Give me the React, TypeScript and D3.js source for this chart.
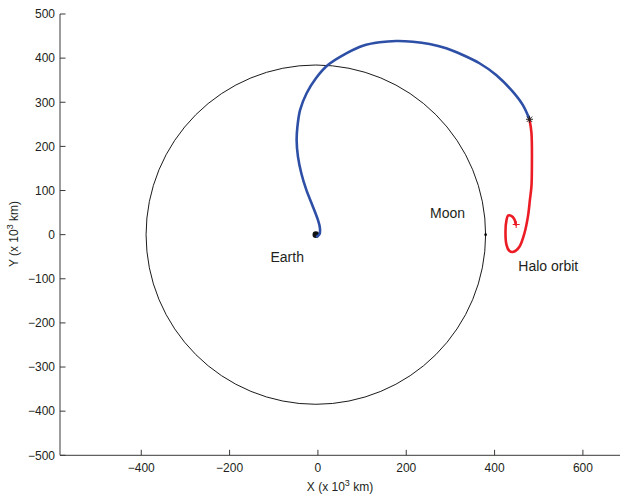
import React from "react";
import * as d3 from "d3";

const W = 621;
const H = 497;

const xTicks = [-400, -200, 0, 200, 400, 600];
const yTicks = [-500, -400, -300, -200, -100, 0, 100, 200, 300, 400, 500];

// Earth & Moon (x 10^3 km, barycentric)
const earth: [number, number] = [-4.7, 0];
const moonOrbitRadius = 384.4;
const moon: [number, number] = [379.7, 0];

// Transfer trajectory (blue)
const transferX = [-1.8, 3.8, 4.5, 0, -11.3, -26.2, -37.6, -45.2, -48.2, -46.4, -40.3, -25.6, -4.1, 22.6, 64.3, 101.8, 139.6, 177.4, 214.9, 252.7, 290.5, 328, 365.8, 403.6, 441.2, 463.8, 479];
const transferY = [-4, 1.6, 15.2, 33.3, 63.4, 101.3, 139.1, 176.8, 214.6, 244.7, 282.6, 320.4, 355.1, 384.5, 411, 428.3, 436, 438.9, 437.3, 432.1, 422.4, 407.2, 388.4, 361.9, 324, 293.9, 261.5];

// Halo orbit insertion arc (red)
const haloX = [479, 483.5, 484.5, 483.5, 480, 475.5, 467.6, 456.3, 443, 433.7, 427, 424.7, 427, 431, 438, 445, 448];
const haloY = [261.5, 230.5, 154, 110, 78.6, 40.8, 3.2, -27.2, -38.8, -37, -23, 6, 33, 43.5, 42.4, 34.4, 23];

const starPoint: [number, number] = [479, 261.5];
const plusPoint: [number, number] = [449, 23];

const FONT = "'Liberation Sans', Arial, Helvetica, sans-serif";
const TEXT = "#231f20";
const AXIS = "#3a3a3a";

export default function App() {
  const x = d3.scaleLinear().domain([-584, 684]).range([60, 620]);
  const y = d3.scaleLinear().domain([-500, 500]).range([455.3, 14]);

  const line = d3
    .line<[number, number]>()
    .x((d) => x(d[0]))
    .y((d) => y(d[1]))
    .curve(d3.curveCatmullRom.alpha(0.5));

  const transfer: [number, number][] = transferX.map((v, i) => [v, transferY[i]]);
  const halo: [number, number][] = haloX.map((v, i) => [v, haloY[i]]);

  const rPx = x(earth[0] + moonOrbitRadius) - x(earth[0]);
  const ryPx = y(0) - y(moonOrbitRadius);

  const fmt = (v: number) => (v < 0 ? "\u2212" + Math.abs(v) : String(v));

  const sx = x(starPoint[0]);
  const sy = y(starPoint[1]);
  const px = x(plusPoint[0]);
  const py = y(plusPoint[1]);
  const s = 3.5;
  const p = 3.5;

  return (
    <svg
      width={W}
      height={H}
      style={{ position: "absolute", left: 0, top: 0, background: "#fff" }}
      fontFamily={FONT}
    >
      <rect x={0} y={0} width={W} height={H} fill="#fff" />
      {/* Moon orbit circle */}
      <ellipse
        cx={x(earth[0])}
        cy={y(earth[1])}
        rx={rPx}
        ry={ryPx}
        fill="none"
        stroke="#000"
        strokeWidth={0.9}
      />
      {/* Moon */}
      <circle cx={x(moon[0])} cy={y(moon[1])} r={1.3} fill="#000" />
      {/* Earth */}
      <circle cx={x(earth[0])} cy={y(earth[1])} r={3.3} fill="#111" />

      {/* trajectories */}
      <path d={line(transfer) || ""} fill="none" stroke="#2e4fa6" strokeWidth={2.6} strokeLinecap="round" />
      <path d={line(halo) || ""} fill="none" stroke="#ec1c24" strokeWidth={2.6} strokeLinecap="round" />

      {/* star marker */}
      <g stroke="#222" strokeWidth={1}>
        <line x1={sx - s} y1={sy} x2={sx + s} y2={sy} />
        <line x1={sx} y1={sy - s} x2={sx} y2={sy + s} />
        <line x1={sx - s * 0.75} y1={sy - s * 0.75} x2={sx + s * 0.75} y2={sy + s * 0.75} />
        <line x1={sx - s * 0.75} y1={sy + s * 0.75} x2={sx + s * 0.75} y2={sy - s * 0.75} />
      </g>
      {/* plus marker */}
      <g stroke="#ec1c24" strokeWidth={1}>
        <line x1={px - p} y1={py} x2={px + p} y2={py} />
        <line x1={px} y1={py - p} x2={px} y2={py + p} />
      </g>

      {/* axes */}
      <line x1={60} y1={y(500)} x2={60} y2={y(-500)} stroke={AXIS} strokeWidth={1} />
      <line x1={60} y1={y(-500)} x2={620} y2={y(-500)} stroke={AXIS} strokeWidth={1} />
      {yTicks.map((t) => (
        <g key={"y" + t}>
          <line x1={60} x2={65.5} y1={y(t)} y2={y(t)} stroke={AXIS} strokeWidth={1} />
          <text x={55} y={y(t)} dy="0.36em" textAnchor="end" fontSize={12} fill={TEXT}>
            {fmt(t)}
          </text>
        </g>
      ))}
      {xTicks.map((t) => (
        <g key={"x" + t}>
          <line x1={x(t)} x2={x(t)} y1={y(-500)} y2={y(-500) - 5.5} stroke={AXIS} strokeWidth={1} />
          <text x={x(t)} y={471.6} textAnchor="middle" fontSize={12} fill={TEXT}>
            {fmt(t)}
          </text>
        </g>
      ))}

      {/* axis labels */}
      <text x={340} y={491} textAnchor="middle" fontSize={12} fill={TEXT}>
        X (x 10<tspan dy={-5} fontSize={9}>3</tspan>
        <tspan dy={5}> km)</tspan>
      </text>
      <text
        transform={`translate(18,234) rotate(-90)`}
        textAnchor="middle"
        fontSize={12}
        fill={TEXT}
      >
        Y (x 10<tspan dy={-5} fontSize={9}>3</tspan>
        <tspan dy={5}> km)</tspan>
      </text>

      {/* annotations */}
      <text x={270.5} y={262.3} fontSize={14} fill={TEXT}>Earth</text>
      <text x={430} y={218.3} fontSize={14} fill={TEXT}>Moon</text>
      <text x={518.3} y={271} fontSize={14} fill={TEXT}>Halo orbit</text>
    </svg>
  );
}
